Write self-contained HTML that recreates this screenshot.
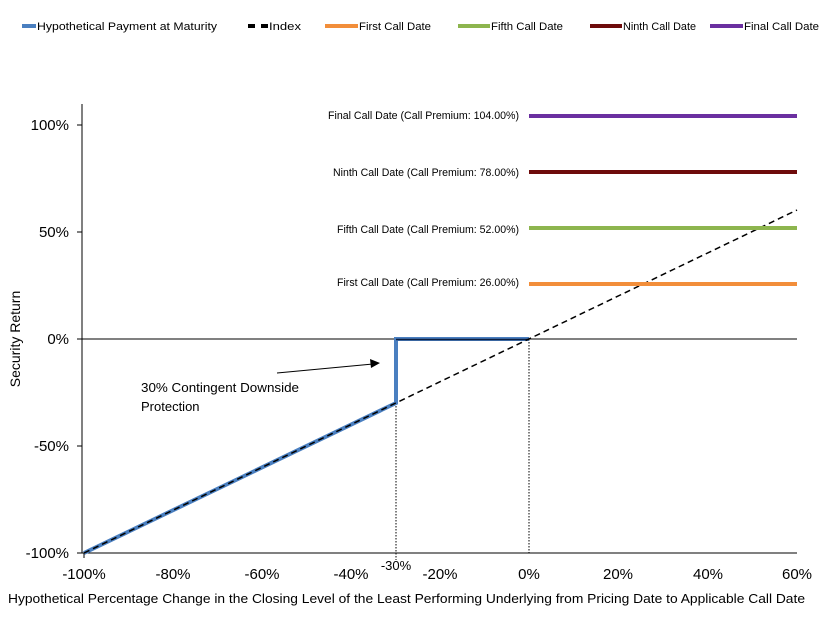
<!DOCTYPE html><html><head><style>body{margin:0;background:#fff}</style></head><body>
<svg width="838" height="623" xmlns="http://www.w3.org/2000/svg" font-family="Liberation Sans, sans-serif">
<rect width="838" height="623" fill="#fff"/>
<g font-size="11" fill="#000">
<line x1="22" y1="26" x2="36" y2="26" stroke="#4a7fc0" stroke-width="4"/><text x="37" y="30" textLength="180" lengthAdjust="spacingAndGlyphs">Hypothetical Payment at Maturity</text>
<line x1="248" y1="26" x2="268" y2="26" stroke="#000" stroke-width="4" stroke-dasharray="7,6"/><text x="269" y="30" textLength="32" lengthAdjust="spacingAndGlyphs">Index</text>
<line x1="325" y1="26" x2="358" y2="26" stroke="#f28e3a" stroke-width="4"/><text x="359" y="30" textLength="72" lengthAdjust="spacingAndGlyphs">First Call Date</text>
<line x1="458" y1="26" x2="490" y2="26" stroke="#8db54e" stroke-width="4"/><text x="491" y="30" textLength="72" lengthAdjust="spacingAndGlyphs">Fifth Call Date</text>
<line x1="590" y1="26" x2="622" y2="26" stroke="#6e0b0b" stroke-width="4"/><text x="623" y="30" textLength="73" lengthAdjust="spacingAndGlyphs">Ninth Call Date</text>
<line x1="710" y1="26" x2="743" y2="26" stroke="#6b2fa0" stroke-width="4"/><text x="744" y="30" textLength="75" lengthAdjust="spacingAndGlyphs">Final Call Date</text>
</g>
<line x1="82" y1="104" x2="82" y2="553" stroke="#000"/>
<line x1="82" y1="553" x2="797" y2="553" stroke="#000"/>
<line x1="82" y1="339" x2="797" y2="339" stroke="#000"/>
<g stroke="#000"><line x1="77" y1="125" x2="82" y2="125"/><line x1="77" y1="232" x2="82" y2="232"/><line x1="77" y1="339" x2="82" y2="339"/><line x1="77" y1="446" x2="82" y2="446"/><line x1="77" y1="553" x2="82" y2="553"/><line x1="84" y1="553" x2="84" y2="558"/></g>
<g font-size="15" text-anchor="end"><text x="69" y="130">100%</text><text x="69" y="237">50%</text><text x="69" y="344">0%</text><text x="69" y="451">-50%</text><text x="69" y="558">-100%</text></g>
<g font-size="15" text-anchor="middle"><text x="84" y="579">-100%</text><text x="173" y="579">-80%</text><text x="262" y="579">-60%</text><text x="351" y="579">-40%</text><text x="440" y="579">-20%</text><text x="529" y="579">0%</text><text x="618" y="579">20%</text><text x="708" y="579">40%</text><text x="797" y="579">60%</text><text x="396" y="570" font-size="13">-30%</text></g>
<text x="8" y="603" font-size="13" textLength="797" lengthAdjust="spacingAndGlyphs">Hypothetical Percentage Change in the Closing Level of the Least Performing Underlying from Pricing Date to Applicable Call Date</text>
<text transform="translate(20,339) rotate(-90)" font-size="14" text-anchor="middle">Security Return</text>
<g stroke="#000" stroke-dasharray="1.5,1.5"><line x1="396" y1="403" x2="396" y2="560"/><line x1="529" y1="339" x2="529" y2="553"/></g>
<polyline points="84,553 396,403 396,339 529,339" fill="none" stroke="#4a7fc0" stroke-width="4"/>
<line x1="529" y1="339.5" x2="396" y2="339.5" stroke="#0c1f40" stroke-width="1.5"/>
<line x1="84" y1="553" x2="797" y2="210" stroke="#000" stroke-width="1.5" stroke-dasharray="6,4"/>
<line x1="529" y1="116" x2="797" y2="116" stroke="#6b2fa0" stroke-width="4"/>
<line x1="529" y1="172" x2="797" y2="172" stroke="#6e0b0b" stroke-width="4"/>
<line x1="529" y1="228" x2="797" y2="228" stroke="#8db54e" stroke-width="4"/>
<line x1="529" y1="284" x2="797" y2="284" stroke="#f28e3a" stroke-width="4"/>
<g font-size="11"><text x="328" y="119" textLength="191" lengthAdjust="spacingAndGlyphs">Final Call Date (Call Premium: 104.00%)</text><text x="333" y="176" textLength="186" lengthAdjust="spacingAndGlyphs">Ninth Call Date (Call Premium: 78.00%)</text><text x="337" y="233" textLength="182" lengthAdjust="spacingAndGlyphs">Fifth Call Date (Call Premium: 52.00%)</text><text x="337" y="286" textLength="182" lengthAdjust="spacingAndGlyphs">First Call Date (Call Premium: 26.00%)</text></g>
<line x1="277" y1="373" x2="373" y2="364" stroke="#000"/><polygon points="380,363 370,359 371,368" fill="#000"/>
<text x="141" y="392" font-size="13" textLength="158" lengthAdjust="spacingAndGlyphs">30% Contingent  Downside</text><text x="141" y="411" font-size="13">Protection</text>
</svg></body></html>
